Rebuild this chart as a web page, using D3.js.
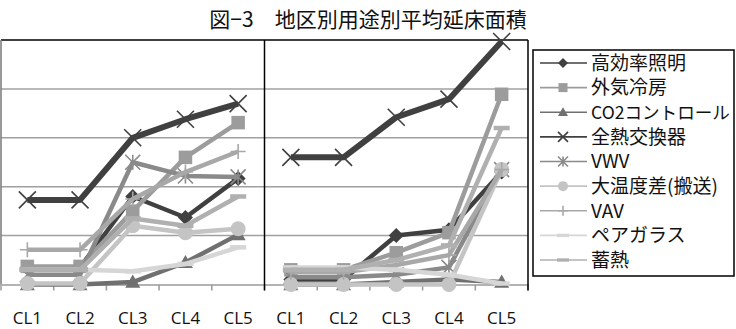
<!DOCTYPE html>
<html><head><meta charset="utf-8">
<script src="https://cdn.jsdelivr.net/npm/d3@7"></script>
<style>html,body{margin:0;padding:0;background:#fff;}svg{display:block;}</style>
</head><body>
<svg id="c" width="736" height="329"></svg>
<script>
const title = "図−3　地区別用途別平均延床面積";
const categories = ["CL1","CL2","CL3","CL4","CL5"];
const panels = ["A","B"];
const seriesNames = ["高効率照明","外気冷房","CO2コントロール","全熱交換器","VWV","大温度差(搬送)","VAV","ペアガラス","蓄熱"];
// left panel values (grid units)
const leftValues = [
  [0.35,0.35,1.8,1.37,2.17],
  [0.37,0.37,1.5,2.6,3.31],
  [0.0,0.0,0.05,0.45,1.02],
  [1.73,1.73,3.0,3.38,3.7],
  [0.2,0.2,2.5,2.22,2.2],
  [0.02,0.02,1.2,1.06,1.14],
  [0.71,0.71,1.75,2.3,2.72],
  [0.3,0.3,0.27,0.42,0.76],
  [0.3,0.3,1.35,1.2,1.8]
];
// right panel values
const rightValues = [
  [0.1,0.1,1.0,1.12,2.3],
  [0.3,0.3,0.65,1.06,3.89],
  [0.0,0.0,0.05,0.1,0.05],
  [2.6,2.6,3.42,3.79,4.97],
  [0.15,0.15,0.2,0.35,2.35],
  [0.0,0.0,0.0,0.0,2.35],
  [0.25,0.25,0.4,0.6,2.35],
  [0.35,0.35,0.3,0.2,0.02],
  [0.3,0.3,0.5,0.8,3.2]
];
const yTicks = [0,1,2,3,4,5];

const colors = ["#404040","#9c9c9c","#707070","#404040","#8a8a8a","#c4c4c4","#a8a8a8","#d6d6d6","#b0b0b0"];
const markers = ["diamond","square","triangle","x","asterisk","circle","plus","dash","dash"];
const lineW = [4.5,4.5,4.5,6,4.5,4.5,4.5,4.5,4.5];

const svg = d3.select("#c");
const L = 1, R = 528, T = 40, B = 284.5;
const keys = [];
panels.forEach(p => categories.forEach(c => keys.push(p+"|"+c)));
const x = d3.scaleBand().domain(keys).range([L, R]);
const y = d3.scaleLinear().domain([0,5]).range([B, T]);

// title
svg.append("text").attr("x", 368).attr("y", 27).attr("text-anchor","middle")
  .style("font-family","'Noto Sans CJK JP'").style("font-size","21px").attr("fill","#111").text(title);

// gridlines
svg.append("g").selectAll("line").data(yTicks.filter(t => t>0 && t<5)).join("line")
  .attr("x1", L).attr("x2", R).attr("y1", d=>y(d)).attr("y2", d=>y(d))
  .attr("stroke","#a0a0a0").attr("stroke-width",1.5);

// x axis
const xAxis = d3.axisBottom(x).tickSize(0).tickFormat(d => d.split("|")[1]);
const gx = svg.append("g").attr("transform",`translate(0,${B})`).call(xAxis);
gx.select(".domain").attr("stroke","#9a9a9a").attr("stroke-width",1.5);
gx.selectAll("text").attr("dy",0).attr("y",39).attr("fill","#111")
  .style("font-family","'Open Sans'").style("font-size","17px");
// tick marks at band boundaries
const bounds = keys.map(k => x(k)).concat([R]);
svg.append("g").selectAll("line").data(bounds).join("line")
  .attr("x1", d=>d).attr("x2", d=>d).attr("y1", B).attr("y2", B+6)
  .attr("stroke","#9a9a9a").attr("stroke-width",1.5);

// frame
svg.append("line").attr("x1",L).attr("x2",R).attr("y1",T).attr("y2",T).attr("stroke","#000").attr("stroke-width",1.5);
svg.append("line").attr("x1",L).attr("x2",L).attr("y1",T).attr("y2",B).attr("stroke","#777").attr("stroke-width",1.5);
svg.append("line").attr("x1",R).attr("x2",R).attr("y1",T).attr("y2",B+6).attr("stroke","#000").attr("stroke-width",1.5);
const mid = x("B|CL1");
svg.append("line").attr("x1",mid).attr("x2",mid).attr("y1",T).attr("y2",B+6).attr("stroke","#000").attr("stroke-width",1.5);

function drawMarker(g, type, cx, cy, s, col) {
  const h = s/2;
  if (type==="diamond") g.append("path").attr("d",`M${cx},${cy-h}L${cx+h},${cy}L${cx},${cy+h}L${cx-h},${cy}Z`).attr("fill",col);
  else if (type==="square") g.append("rect").attr("x",cx-h*0.9).attr("y",cy-h*0.9).attr("width",s*0.9).attr("height",s*0.9).attr("fill",col);
  else if (type==="triangle") g.append("path").attr("d",`M${cx},${cy-h}L${cx+h},${cy+h*0.75}L${cx-h},${cy+h*0.75}Z`).attr("fill",col);
  else if (type==="circle") g.append("circle").attr("cx",cx).attr("cy",cy).attr("r",h).attr("fill",col);
  else if (type==="x") g.append("path").attr("d",`M${cx-h},${cy-h}L${cx+h},${cy+h}M${cx-h},${cy+h}L${cx+h},${cy-h}`).attr("stroke",col).attr("stroke-width",1.6);
  else if (type==="asterisk") g.append("path").attr("d",`M${cx-h},${cy-h}L${cx+h},${cy+h}M${cx-h},${cy+h}L${cx+h},${cy-h}M${cx},${cy-h}L${cx},${cy+h}`).attr("stroke",col).attr("stroke-width",1.6);
  else if (type==="plus") g.append("path").attr("d",`M${cx-h},${cy}L${cx+h},${cy}M${cx},${cy-h}L${cx},${cy+h}`).attr("stroke",col).attr("stroke-width",1.6);
  else if (type==="dash") g.append("rect").attr("x",cx-h).attr("y",cy-s*0.14).attr("width",s).attr("height",s*0.28).attr("fill",col);
}

const line = d3.line().x(d=>x(d.k)+x.bandwidth()/2).y(d=>y(d.v));
const plot = svg.append("g");
seriesNames.forEach((name, i) => {
  [[leftValues,"A"],[rightValues,"B"]].forEach(([vals,p]) => {
    const pts = categories.map((c,j)=>({k:p+"|"+c, v:vals[i][j]}));
    const g = plot.append("g");
    g.append("path").datum(pts).attr("d",line).attr("fill","none")
      .attr("stroke",colors[i]).attr("stroke-width",lineW[i]).attr("stroke-linejoin","round");
    const ms = markers[i]==="x" ? 17 : (markers[i]==="dash" ? 16 : 15);
    pts.forEach(d => drawMarker(g, markers[i], x(d.k)+x.bandwidth()/2, y(d.v), ms, colors[i]));
  });
});

// legend
const lg = svg.append("g");
const boxX = 533, boxW = 201;
lg.append("rect").attr("x",boxX).attr("y",50).attr("width",boxW).attr("height",226)
  .attr("fill","#fff").attr("stroke","#000").attr("stroke-width",1.5);
const ly = d3.scalePoint().domain(seriesNames).range([63,260]);
seriesNames.forEach((name,i) => {
  const yy = ly(name);
  lg.append("line").attr("x1",540).attr("x2",587).attr("y1",yy).attr("y2",yy).attr("stroke",colors[i]).attr("stroke-width",1.6);
  drawMarker(lg, markers[i], 563, yy, markers[i]==="dash"?12:10, colors[i]);
  const t = lg.append("text").attr("x",591).attr("y",yy).attr("dy","0.36em").attr("fill","#111")
    .style("font-family","'Noto Sans CJK JP'").style("font-size","19px").text(name);
  const maxW = boxX + boxW - 595;
  const w = t.node().getComputedTextLength();
  if (w > maxW) t.style("font-size", (19 * maxW / w).toFixed(2) + "px");
});
</script>
</body></html>
